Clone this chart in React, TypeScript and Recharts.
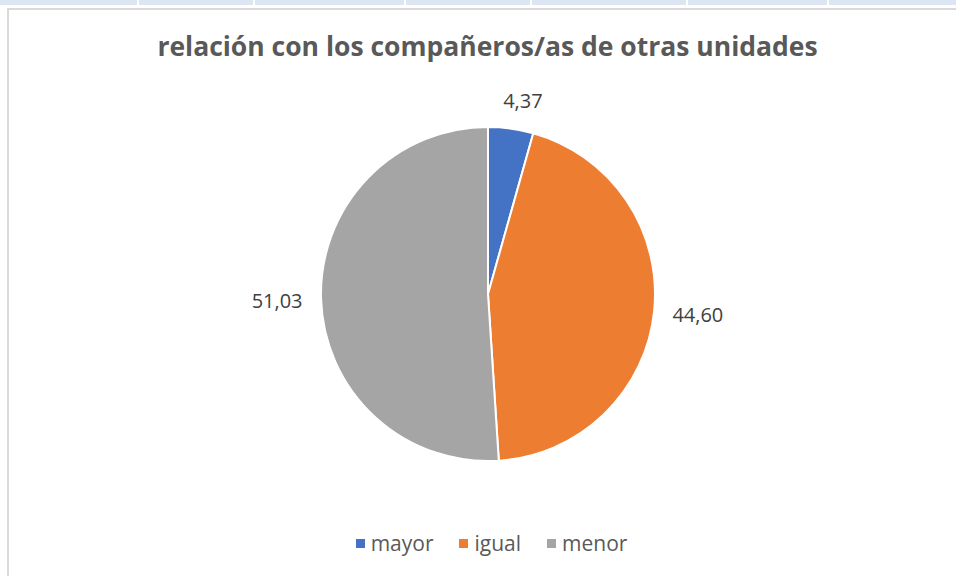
import { PieChart, Pie, Cell } from "recharts"

const categories = ["mayor", "igual", "menor"]
const values = [4.37, 44.6, 51.03]
const colors = ["#4472C4", "#ED7D31", "#A5A5A5"]
const cellEdges = [137, 253, 404, 530, 686, 827]

const data = categories.map((name, i) => ({ name, value: values[i] }))

const RAD = Math.PI / 180
const FONT = "'Open Sans', 'Noto Sans', sans-serif"

const fmt = (v: number) => v.toFixed(2).replace(".", ",")

// place the label box just outside the slice, like Excel's best fit
const renderLabel = (props: any) => {
  const { cx, cy, midAngle, outerRadius, value } = props
  const r = outerRadius + 18
  const c = Math.cos(-midAngle * RAD)
  const s = Math.sin(-midAngle * RAD)
  const hw = 26
  const hh = 10
  const x = cx + r * c + c * hw + (Math.abs(c) < 0.3 ? 6 : 0)
  const y = cy + r * s + s * hh
  return (
    <text
      x={x}
      y={y}
      textAnchor="middle"
      dominantBaseline="central"
      fill="#404040"
      fontSize={20}
      fontFamily={FONT}
    >
      {fmt(value)}
    </text>
  )
}

export default function App() {
  return (
    <div
      style={{
        position: "absolute",
        left: 0,
        top: 0,
        width: 956,
        height: 576,
        background: "#fff",
        overflow: "hidden",
        fontFamily: FONT,
      }}
    >
      {/* spreadsheet strip above the chart */}
      <div style={{ position: "absolute", left: 0, top: 0, width: 956, height: 5, background: "#dce6f2" }} />
      {cellEdges.map((x) => (
        <div key={x} style={{ position: "absolute", left: x, top: 0, width: 2, height: 5, background: "#fff" }} />
      ))}
      <div style={{ position: "absolute", left: 7, top: 8, width: 949, height: 2, background: "#d9d9d9" }} />
      <div style={{ position: "absolute", left: 7, top: 8, width: 2, height: 568, background: "#d9d9d9" }} />

      <div
        style={{
          position: "absolute",
          left: 0,
          top: 29,
          width: 975,
          textAlign: "center",
          fontSize: 26.5,
          lineHeight: "34px",
          fontWeight: 700,
          color: "#595959",
        }}
      >
        relación con los compañeros/as de otras unidades
      </div>

      <div style={{ position: "absolute", left: 0, top: 0 }}>
        <PieChart width={956} height={576} margin={{ top: 0, right: 0, bottom: 0, left: 0 }}>
          <Pie
            data={data}
            dataKey="value"
            nameKey="name"
            cx={488}
            cy={294}
            outerRadius={167}
            startAngle={90}
            endAngle={-270}
            stroke="#fff"
            strokeWidth={2}
            label={renderLabel}
            labelLine={false}
            isAnimationActive={false}
          >
            {data.map((d, i) => (
              <Cell key={d.name} fill={colors[i]} />
            ))}
          </Pie>
        </PieChart>
      </div>

      <div
        style={{
          position: "absolute",
          left: 0,
          top: 528,
          width: 983,
          display: "flex",
          justifyContent: "center",
          gap: 26,
          fontSize: 21,
          lineHeight: "30px",
          color: "#595959",
        }}
      >
        {categories.map((name, i) => (
          <div key={name} style={{ display: "flex", alignItems: "center" }}>
            <span style={{ display: "inline-block", width: 9, height: 9, background: colors[i], marginRight: 6 }} />
            <span>{name}</span>
          </div>
        ))}
      </div>
    </div>
  )
}
